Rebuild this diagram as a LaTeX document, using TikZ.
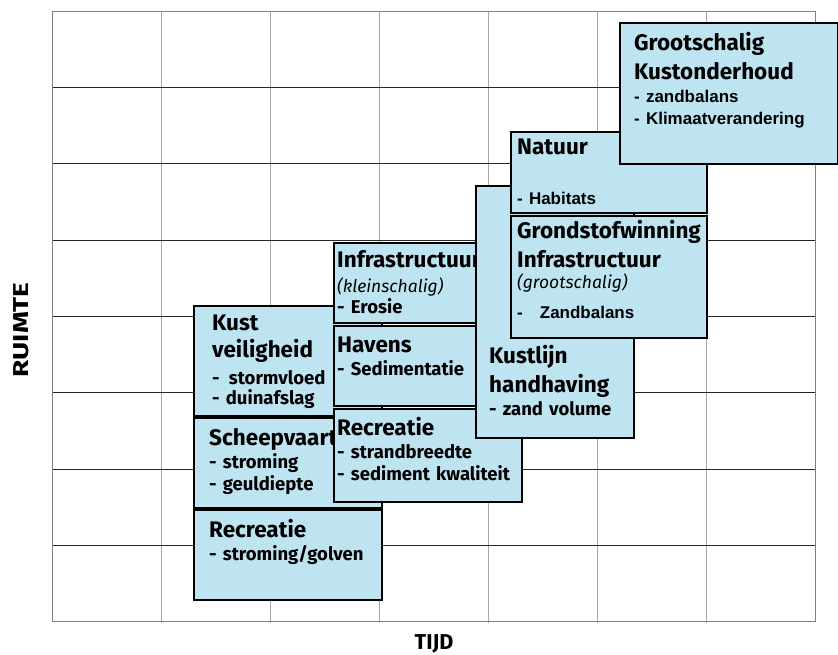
\documentclass[tikz,border=0pt]{standalone}
\usepackage{xcolor}
\usepackage{fontspec}
\setmainfont{Fira Sans}
\newfontfamily\arialfont{Liberation Sans}
\usetikzlibrary{positioning}

\definecolor{boxblue}{RGB}{190,228,241}
\newcommand{\kop}[1]{{\fontsize{22.5}{22}\selectfont #1}}
\newcommand{\schaal}[1]{{\mdseries\itshape\fontsize{17.5}{18}\selectfont #1}}
\newcommand{\arial}[1]{{\arialfont\fontsize{17}{18}\selectfont #1}}

\begin{document}
\begin{tikzpicture}[x=1pt, y=-1pt,
  vak/.style={draw=black, line width=1.6pt, fill=boxblue, inner sep=0pt, anchor=north west},
  tekst/.style={anchor=base west, align=left, inner sep=0pt, text width=#1,
    font=\bfseries\fontsize{18.5}{22}\selectfont},
  tekst/.default=210pt,
  as/.style={font=\bfseries\fontsize{21.5}{24}\selectfont, inner sep=0pt}]
  \useasboundingbox (0,0) rectangle (838,655);

  % Draw grid
  \foreach \x in {161,270,379,488,597,706}
    \draw[gray!70] (\x,11) -- (\x,623);
  \foreach \y in {87.3,163.6,239.9,316.2,392.5,468.8,545.1}
    \draw[black!85] (52,\y) -- (815,\y);
  \draw[gray] (52,11) rectangle (815,621.5);

  % Axis labels
  \node[as, rotate=90, xscale=1.3] (ruimte) at (21,330) {RUIMTE};
  \node[as, anchor=base] (tijd) at (434,649) {TIJD};

  % Left column
  \node[vak, minimum width=188pt, minimum height=110pt] (kust) at (193,305) {};
  \node[tekst] (kustT) at ([shift={(19,25)}]kust.north west)
    {\kop{Kust}\\[5pt]\kop{veiligheid}\\[5pt]-\ \,stormvloed\\[-2pt]- duinafslag};
  \node[vak, minimum width=188pt, minimum height=90pt] (schip) at (193,417) {};
  \node[tekst] (schipT) at ([shift={(16,28)}]schip.north west)
    {\kop{Scheepvaart}\\[1pt]- stroming\\- geuldiepte};
  \node[vak, minimum width=188pt, minimum height=90pt] (recr) at (193,509) {};
  \node[tekst] (recrT) at ([shift={(16,28)}]recr.north west)
    {\kop{Recreatie}\\[1pt]- stroming/golven};

  % Middle column
  \node[vak, minimum width=188pt, minimum height=80pt] (infra) at (333,242) {};
  \node[tekst] (infraT) at ([shift={(4,25)}]infra.north west)
    {\kop{Infrastructuur}\\[3pt]\schaal{(kleinschalig)}\\[-1pt]- Erosie};
  \node[vak, minimum width=188pt, minimum height=80pt] (havens) at (333,325) {};
  \node[tekst] (havensT) at ([shift={(4,27)}]havens.north west)
    {\kop{Havens}\\[1pt]- Sedimentatie};
  \node[vak, minimum width=188pt, minimum height=93pt] (strand) at (333,408) {};
  \node[tekst] (strandT) at ([shift={(4,27)}]strand.north west)
    {\kop{Recreatie}\\[1pt]- strandbreedte\\- sediment kwaliteit};

  \node[vak, minimum width=158pt, minimum height=252pt] (kustlijn) at (475,185) {};
  \node[tekst] (kustlijnT) at ([shift={(14,178)}]kustlijn.north west)
    {\kop{Kustlijn}\\[5pt]\kop{handhaving}\\[1pt]- zand volume};

  % Right column
  \node[vak, minimum width=196pt, minimum height=81pt] (natuur) at (510,131) {};
  \node[tekst] (natuurT) at ([shift={(7,24)}]natuur.north west)
    {\kop{Natuur}\\[28pt]\arial{- Habitats}};
  \node[vak, minimum width=196pt, minimum height=122pt] (grond) at (510,215) {};
  \node[tekst] (grondT) at ([shift={(7,24)}]grond.north west)
    {\kop{Grondstofwinning}\\[5pt]\kop{Infrastructuur}\\[-1pt]\schaal{(grootschalig)}\\[8pt]\arial{-\quad Zandbalans}};
  \node[vak, minimum width=218pt, minimum height=141pt] (groot) at (619,22) {};
  \node[tekst] (grootT) at ([shift={(15,29)}]groot.north west)
    {\kop{Grootschalig}\\[5pt]\kop{Kustonderhoud}\\[1pt]\arial{- zandbalans}\\\arial{- Klimaatverandering}};
\end{tikzpicture}
\end{document}
